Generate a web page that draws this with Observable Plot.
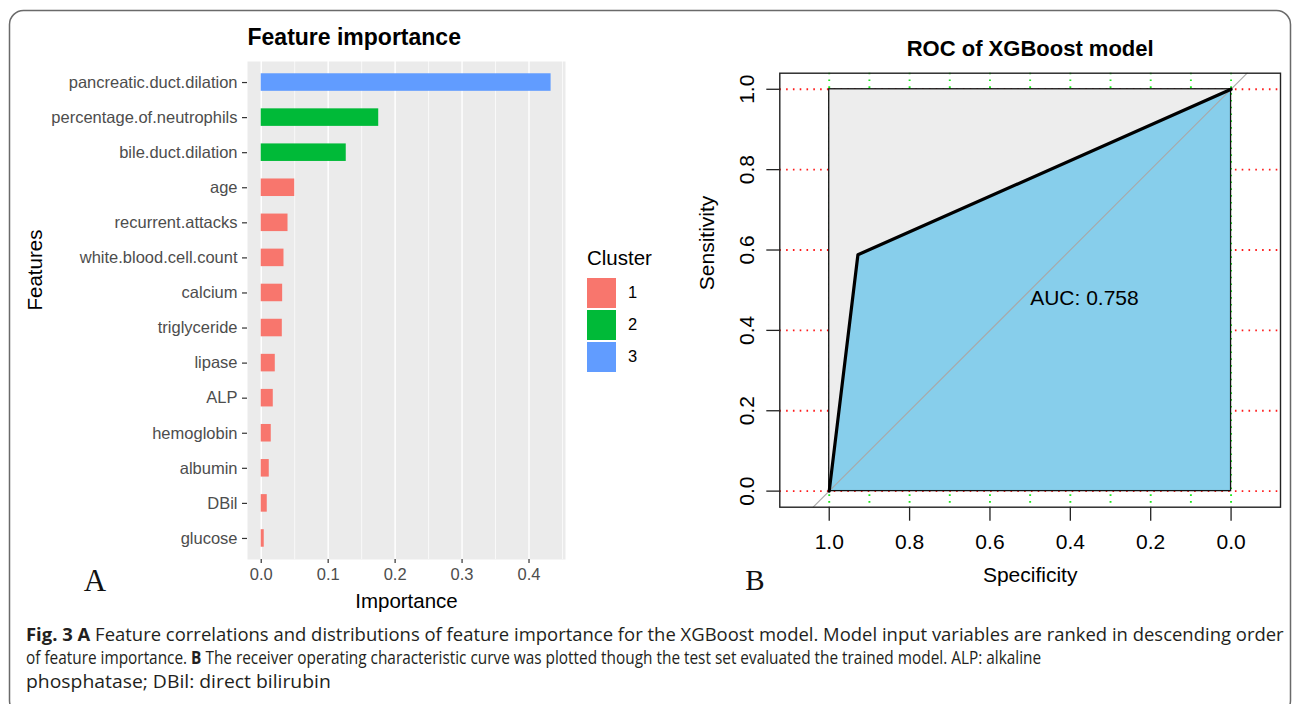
<!DOCTYPE html>
<html><head><meta charset="utf-8">
<script src="https://cdn.jsdelivr.net/npm/d3@7"></script>
<script src="https://cdn.jsdelivr.net/npm/@observablehq/plot@0.6"></script>
<style>
body{margin:0;background:#fff;}
#fig{position:relative;width:1293px;height:704px;overflow:hidden;font-family:"Liberation Sans",Arial,sans-serif;background:#fff;}
#fig > svg, #fig > div{position:absolute;}
.legtitle{font-size:20.5px;color:#000;}
.legsw{width:29px;height:30px;}
.leglab{font-size:16.5px;color:#000;}
</style></head><body><div id="fig"></div>
<script>
// ---------- Panel A data ----------
const features = ["pancreatic.duct.dilation","percentage.of.neutrophils","bile.duct.dilation","age",
  "recurrent.attacks","white.blood.cell.count","calcium","triglyceride","lipase","ALP",
  "hemoglobin","albumin","DBil","glucose"];
const importance = [0.433,0.1755,0.127,0.050,0.040,0.034,0.032,0.0315,0.021,0.018,0.015,0.012,0.009,0.0045];
const cluster = ["3","2","2","1","1","1","1","1","1","1","1","1","1","1"];
const clusterLevels = ["1","2","3"];
const clusterColors = ["#F8766D","#00BA38","#619CFF"];
const impTicks = [0,0.1,0.2,0.3,0.4];
const impMinor = [0.05,0.15,0.25,0.35,0.45];

// ---------- Panel B data ----------
const rocSpecificity = [1,0.9286,0];
const rocSensitivity = [0,0.5882,1];
const aucValue = 0.758;
const specTicks = [1,0.8,0.6,0.4,0.2,0];
const sensTicks = [0,0.2,0.4,0.6,0.8,1];
const specGrid = [1,0.9,0.8,0.7,0.6,0.5,0.4,0.3,0.2,0.1,0];

const FONT = '"Liberation Sans",Arial,Helvetica,sans-serif';
const fig = document.getElementById("fig");

// ---------- Panel A ----------
const dataA = features.map((f,i)=>({feature:f, importance:importance[i], cluster:cluster[i]}));
const plotA = Plot.plot({
  width:690, height:620,
  marginLeft:247, marginRight:125, marginTop:61, marginBottom:61,
  style:{fontFamily:FONT, background:"transparent", overflow:"visible"},
  x:{domain:[-0.0205,0.4545], label:null},
  y:{domain:features, type:"band", paddingInner:0.5, paddingOuter:0.35, round:false, label:null},
  color:{domain:clusterLevels, range:clusterColors},
  marks:[
    Plot.frame({fill:"#EBEBEB", stroke:null}),
    Plot.ruleX(impMinor,{stroke:"white", strokeWidth:0.7}),
    Plot.ruleX(impTicks,{stroke:"white", strokeWidth:1.4}),
    Plot.barX(dataA,{x:"importance", y:"feature", fill:"cluster"}),
    Plot.axisX(impTicks,{tickSize:4, tickPadding:5, tickFormat:d=>d.toFixed(1), fontSize:16.5, fill:"#4D4D4D", stroke:"#333", strokeWidth:1.2, label:null}),
    Plot.axisY({tickSize:5, tickPadding:5, fontSize:16.5, fill:"#4D4D4D", stroke:"#333", strokeWidth:1.2, label:null}),
    Plot.text(["Importance"],{frameAnchor:"bottom", dy:42.4, lineAnchor:"middle", fontSize:20.5, fill:"#000"}),
    Plot.text(["Features"],{frameAnchor:"left", dx:-212, rotate:-90, lineAnchor:"middle", fontSize:20.5, fill:"#000"}),
    Plot.text(["Feature importance"],{frameAnchor:"top-left", dy:-24, lineAnchor:"middle", textAnchor:"start", fontSize:23, fontWeight:"bold", fill:"#000"})
  ]
});
plotA.style.left="0px"; plotA.style.top="0px";
fig.appendChild(plotA);

// legend (ggplot-style, vertical)
const leg = document.createElement("div");
leg.style.left="587px"; leg.style.top="246px";
leg.innerHTML = `<div class="legtitle" style="position:absolute;left:0;top:0;white-space:nowrap">Cluster</div>` +
  clusterLevels.map((c,i)=>`<div class="legsw" style="position:absolute;left:0;top:${32+i*32}px;background:${clusterColors[i]}"></div>`+
  `<div class="leglab" style="position:absolute;left:41px;top:${37+i*32}px">${c}</div>`).join("");
fig.appendChild(leg);

// ---------- Panel B ----------
const roc = rocSpecificity.map((s,i)=>({spec:s, sens:rocSensitivity[i]}));
const box = [{x1:d3.max(specTicks), x2:d3.min(specTicks), y1:d3.min(sensTicks), y2:d3.max(sensTicks)}];
const xDom = [1.123,-0.123], yDom = [-0.04,1.04];
const diag = yDom.map(y=>({spec:1-y, sens:y}));
const plotB = Plot.plot({
  width:603, height:600,
  marginLeft:89.3, marginRight:13, marginTop:72.7, marginBottom:93.3,
  style:{fontFamily:FONT, background:"transparent", overflow:"visible"},
  x:{domain:xDom, label:null},
  y:{domain:yDom, label:null},
  marks:[
    Plot.ruleY(sensTicks,{stroke:"#ff1a1a", strokeWidth:1.9, strokeDasharray:"1.6,5.2"}),
    Plot.ruleX(specGrid,{stroke:"#1ee81e", strokeWidth:1.9, strokeDasharray:"1.6,5.2"}),
    Plot.rect(box,{x1:"x1",x2:"x2",y1:"y1",y2:"y2", fill:"#EDEDED"}),
    Plot.areaY(roc,{x:"spec", y:"sens", fill:"#87CEEB"}),
    Plot.rect(box,{x1:"x1",x2:"x2",y1:"y1",y2:"y2", fill:"none", stroke:"#111", strokeWidth:1.3}),
    Plot.line(diag,{x:"spec", y:"sens", stroke:"#A8A8A8", strokeWidth:1.1}),
    Plot.line(roc,{x:"spec", y:"sens", stroke:"#000", strokeWidth:3.2, strokeLinejoin:"round"}),
    Plot.frame({stroke:"#222", strokeWidth:1.4}),
    Plot.axisX(specTicks,{tickSize:14, tickPadding:13, tickFormat:d=>d.toFixed(1), fontSize:21, fill:"#000", stroke:"#222", strokeWidth:1.3, label:null}),
    Plot.axisY(sensTicks,{tickSize:13, tickFormat:()=>"", stroke:"#222", strokeWidth:1.3, label:null}),
    Plot.text(sensTicks,{y:d=>d, frameAnchor:"left", dx:-32.6, rotate:-90, textAnchor:"middle", lineAnchor:"middle", text:d=>d.toFixed(1), fontSize:21, fill:"#000"}),
    Plot.text(["Sensitivity"],{frameAnchor:"left", dx:-72.3, rotate:-90, lineAnchor:"middle", fontSize:21, fill:"#000"}),
    Plot.text(["Specificity"],{frameAnchor:"bottom", dy:68.3, lineAnchor:"middle", fontSize:21, fill:"#000"}),
    Plot.text(["ROC of XGBoost model"],{frameAnchor:"top", dy:-24.7, lineAnchor:"middle", fontSize:22, fontWeight:"bold", fill:"#000"}),
    Plot.text([{spec:0.5, sens:0.48}],{x:"spec", y:"sens", text:()=>"AUC: "+aucValue.toFixed(3), textAnchor:"start", lineAnchor:"middle", fontSize:21, fill:"#000"})
  ]
});
plotB.style.left="690px"; plotB.style.top="0px";
fig.appendChild(plotB);

// ---------- overlay: border, panel letters, caption ----------
const NS="http://www.w3.org/2000/svg";
const ov = document.createElementNS(NS,"svg");
ov.setAttribute("width",1293); ov.setAttribute("height",704);
ov.style.left="0px"; ov.style.top="0px"; ov.style.pointerEvents="none";
ov.innerHTML = `
<rect x="9.5" y="10.5" width="1281" height="704" rx="14" ry="14" fill="none" stroke="#6a6a6a" stroke-width="1.5"/>
<text x="95" y="591" text-anchor="middle" font-family="'Liberation Serif','DejaVu Serif',serif" font-size="31" fill="#111">A</text>
<text x="755" y="590" text-anchor="middle" font-family="'Liberation Serif','DejaVu Serif',serif" font-size="29" fill="#111">B</text>
<g font-family="'Open Sans',sans-serif" font-size="18.5" fill="#231f20" style="white-space:pre">
<text class="cap" data-w="1259" x="26" y="641.5"><tspan font-weight="bold">Fig. 3  A</tspan> Feature correlations and distributions of feature importance for the XGBoost model. Model input variables are ranked in descending order</text>
<text class="cap" data-w="1016" x="26" y="664.5">of feature importance. <tspan font-weight="bold">B</tspan> The receiver operating characteristic curve was plotted though the test set evaluated the trained model. ALP: alkaline</text>
<text class="cap" data-w="305" x="26" y="688">phosphatase; DBil: direct bilirubin</text>
</g>`;
fig.appendChild(ov);
// fit each caption line to the width it spans in the reference (horizontal scale only)
ov.querySelectorAll("text.cap").forEach(t=>{
  const k = (+t.getAttribute("data-w"))/t.getComputedTextLength();
  t.setAttribute("transform",`translate(26,0) scale(${k},1) translate(-26,0)`);
});
</script>
</body></html>
